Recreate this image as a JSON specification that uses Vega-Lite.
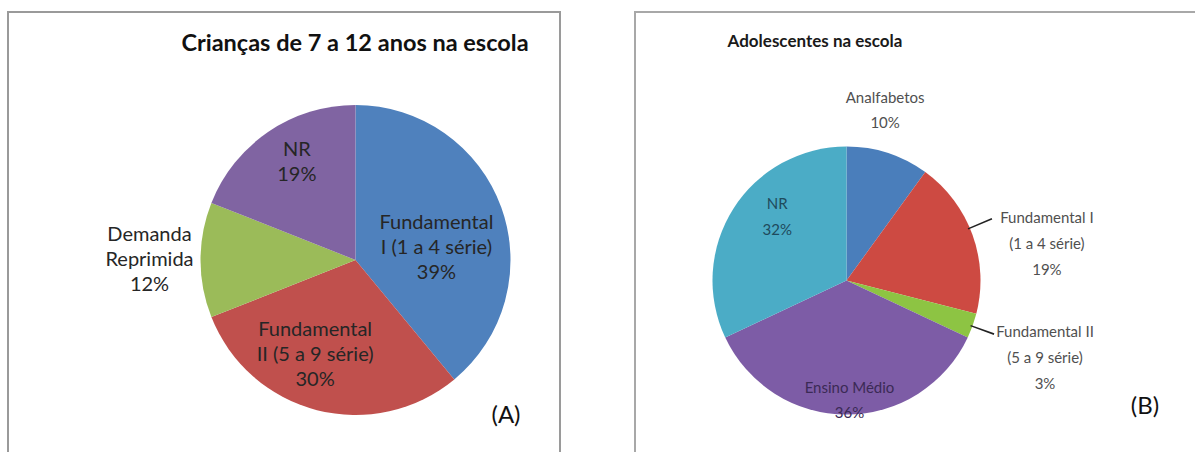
{
  "$schema": "https://vega.github.io/schema/vega-lite/v6.json",
  "padding": {"left": 7, "top": 11, "right": 0, "bottom": 0},
  "background": "white",
  "spacing": 73,
  "resolve": {"scale": {"color": "independent", "theta": "independent"}},
  "config": {"font": "Lato", "text": {"font": "Lato"}},
  "datasets": {
    "criancas": [
      {"cat": "Fundamental I (1 a 4 série)", "pct": 39, "ordem": 1, "rotulo": ["Fundamental", "I (1 a 4 série)", "39%"]},
      {"cat": "Fundamental II (5 a 9 série)", "pct": 30, "ordem": 2, "rotulo": ["Fundamental", "II (5 a 9 série)", "30%"]},
      {"cat": "Demanda Reprimida", "pct": 12, "ordem": 3, "rotulo": ["Demanda", "Reprimida", "12%"]},
      {"cat": "NR", "pct": 19, "ordem": 4, "rotulo": ["NR", "19%"]}
    ],
    "adolescentes": [
      {"cat": "Analfabetos", "pct": 10, "ordem": 1, "rotulo": ["Analfabetos", "10%"]},
      {"cat": "Fundamental I (1 a 4 série)", "pct": 19, "ordem": 2, "rotulo": ["Fundamental I", "(1 a 4 série)", "19%"]},
      {"cat": "Fundamental II (5 a 9 série)", "pct": 3, "ordem": 3, "rotulo": ["Fundamental II", "(5 a 9 série)", "3%"]},
      {"cat": "Ensino Médio", "pct": 36, "ordem": 4, "rotulo": ["Ensino Médio", "36%"]},
      {"cat": "NR", "pct": 32, "ordem": 5, "rotulo": ["NR", "32%"]}
    ]
  },
  "hconcat": [
    {
      "width": 552,
      "height": 447,
      "view": {"stroke": "#9a9a9a", "strokeWidth": 2},
      "layer": [
        {
          "data": {"name": "criancas"},
          "encoding": {
            "theta": {"field": "pct", "type": "quantitative", "stack": true},
            "order": {"field": "ordem", "type": "quantitative"}
          },
          "layer": [
            {
              "mark": {"type": "arc", "x": 347.5, "y": 248, "radius": 155},
              "encoding": {
                "color": {
                  "field": "cat", "type": "nominal", "legend": null,
                  "scale": {
                    "domain": ["Fundamental I (1 a 4 série)", "Fundamental II (5 a 9 série)", "Demanda Reprimida", "NR"],
                    "range": ["#4F81BD", "#C0504D", "#9BBB59", "#8064A2"]
                  }
                }
              }
            },
            {
              "mark": {"type": "text", "x": 347.5, "y": 248, "radius": 86, "dy": -8, "fontSize": 20, "lineHeight": 25, "align": "center", "baseline": "middle", "color": "#262626"},
              "encoding": {"text": {"condition": {"test": "datum.cat === 'Fundamental I (1 a 4 série)'", "field": "rotulo"}, "value": ""}}
            },
            {
              "mark": {"type": "text", "x": 347.5, "y": 248, "radius": 98, "dx": -16, "dy": -25, "fontSize": 20, "lineHeight": 25, "align": "center", "baseline": "middle", "color": "#262626"},
              "encoding": {"text": {"condition": {"test": "datum.cat === 'Fundamental II (5 a 9 série)'", "field": "rotulo"}, "value": ""}}
            },
            {
              "mark": {"type": "text", "x": 347.5, "y": 248, "radius": 115, "dx": 6, "dy": -15, "fontSize": 20, "lineHeight": 25, "align": "center", "baseline": "middle", "color": "#262626"},
              "encoding": {"text": {"condition": {"test": "datum.cat === 'NR'", "field": "rotulo"}, "value": ""}}
            },
            {
              "mark": {"type": "text", "x": 347.5, "y": 248, "radius": 206, "dy": -25, "fontSize": 20, "lineHeight": 25, "align": "center", "baseline": "middle", "color": "#262626"},
              "encoding": {"text": {"condition": {"test": "datum.cat === 'Demanda Reprimida'", "field": "rotulo"}, "value": ""}}
            }
          ]
        },
        {
          "data": {"values": [{"titulo": "Crianças de 7 a 12 anos na escola"}]},
          "mark": {"type": "text", "x": 347, "y": 32, "fontSize": 23.5, "fontWeight": "bold", "align": "center", "baseline": "middle", "color": "#111111"},
          "encoding": {"text": {"field": "titulo"}}
        },
        {
          "data": {"values": [{"painel": "(A)"}]},
          "mark": {"type": "text", "x": 498, "y": 404, "fontSize": 24, "align": "center", "baseline": "middle", "color": "#111111"},
          "encoding": {"text": {"field": "painel"}}
        }
      ]
    },
    {
      "width": 600,
      "height": 447,
      "view": {"stroke": "#a8a8a8", "strokeWidth": 2},
      "layer": [
        {
          "data": {"name": "adolescentes"},
          "encoding": {
            "theta": {"field": "pct", "type": "quantitative", "stack": true},
            "order": {"field": "ordem", "type": "quantitative"}
          },
          "layer": [
            {
              "mark": {"type": "arc", "x": 211.5, "y": 268.5, "radius": 134},
              "encoding": {
                "color": {
                  "field": "cat", "type": "nominal", "legend": null,
                  "scale": {
                    "domain": ["Analfabetos", "Fundamental I (1 a 4 série)", "Fundamental II (5 a 9 série)", "Ensino Médio", "NR"],
                    "range": ["#4A7EBB", "#CD4A42", "#8DC443", "#7D5CA6", "#4BACC6"]
                  }
                }
              }
            },
            {
              "mark": {"type": "text", "x": 211.5, "y": 268.5, "radius": 180, "dx": -17, "dy": -11, "fontSize": 15, "lineHeight": 25, "align": "center", "baseline": "middle", "color": "#505050"},
              "encoding": {"text": {"condition": {"test": "datum.cat === 'Analfabetos'", "field": "rotulo"}, "value": ""}}
            },
            {
              "mark": {"type": "text", "x": 211.5, "y": 268.5, "radius": 213, "dy": 10, "fontSize": 15, "lineHeight": 26, "align": "center", "baseline": "middle", "color": "#505050"},
              "encoding": {"text": {"condition": {"test": "datum.cat === 'Fundamental I (1 a 4 série)'", "field": "rotulo"}, "value": ""}}
            },
            {
              "mark": {"type": "text", "x": 211.5, "y": 268.5, "radius": 211, "dy": -20, "fontSize": 15, "lineHeight": 26, "align": "center", "baseline": "middle", "color": "#505050"},
              "encoding": {"text": {"condition": {"test": "datum.cat === 'Fundamental II (5 a 9 série)'", "field": "rotulo"}, "value": ""}}
            },
            {
              "mark": {"type": "text", "x": 211.5, "y": 268.5, "radius": 118, "dx": 3, "dy": -11, "fontSize": 15, "lineHeight": 25, "align": "center", "baseline": "middle", "color": "#3b2a55"},
              "encoding": {"text": {"condition": {"test": "datum.cat === 'Ensino Médio'", "field": "rotulo"}, "value": ""}}
            },
            {
              "mark": {"type": "text", "x": 211.5, "y": 268.5, "radius": 82, "dy": -33, "fontSize": 15, "lineHeight": 26, "align": "center", "baseline": "middle", "color": "#1f4a5c"},
              "encoding": {"text": {"condition": {"test": "datum.cat === 'NR'", "field": "rotulo"}, "value": ""}}
            }
          ]
        },
        {
          "data": {"name": "adolescentes"},
          "transform": [{"filter": "datum.ordem === 2"}],
          "mark": {"type": "arc", "x": 211.5, "y": 268.5, "theta": 1.164, "theta2": 1.175, "radius": 158, "radius2": 132, "color": "#222222"},
          "encoding": {}
        },
        {
          "data": {"name": "adolescentes"},
          "transform": [{"filter": "datum.ordem === 3"}],
          "mark": {"type": "arc", "x": 211.5, "y": 268.5, "theta": 1.914, "theta2": 1.925, "radius": 157, "radius2": 132, "color": "#222222"},
          "encoding": {}
        },
        {
          "data": {"values": [{"titulo": "Adolescentes na escola"}]},
          "mark": {"type": "text", "x": 180, "y": 30, "fontSize": 17, "fontWeight": "bold", "align": "center", "baseline": "middle", "color": "#1a1a1a"},
          "encoding": {"text": {"field": "titulo"}}
        },
        {
          "data": {"values": [{"painel": "(B)"}]},
          "mark": {"type": "text", "x": 510, "y": 395, "fontSize": 24, "align": "center", "baseline": "middle", "color": "#111111"},
          "encoding": {"text": {"field": "painel"}}
        }
      ]
    }
  ]
}
